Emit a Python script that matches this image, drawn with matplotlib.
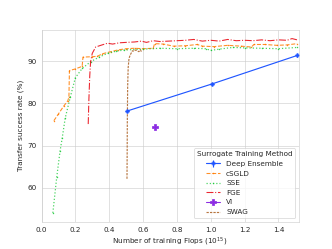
import matplotlib
matplotlib.use("Agg")
import matplotlib.pyplot as plt
import seaborn as sns

# values
de_x = [0.506, 1.005, 1.511]
de_y = [78.2, 84.6, 91.4]
de_err = [0.3, 0.3, 0.3]

csgld_x = [0.073, 0.10, 0.13, 0.155, 0.162, 0.165, 0.20, 0.24, 0.245, 0.30, 0.33, 0.36,
           0.41, 0.45, 0.50, 0.55, 0.60, 0.66, 0.668, 0.72, 0.78, 0.85, 0.92, 0.95,
           1.02, 1.10, 1.18, 1.24, 1.255, 1.32, 1.39, 1.45, 1.51]
csgld_y = [75.9, 77.5, 79.3, 80.6, 81.5, 87.8, 88.2, 88.8, 91.0, 91.1, 91.2, 91.8,
           92.3, 92.7, 93.0, 93.1, 93.0, 93.1, 94.2, 94.1, 93.6, 93.7, 94.0, 93.6,
           93.5, 93.8, 93.6, 93.4, 94.0, 94.0, 93.8, 93.9, 94.2]

sse_x = [0.067, 0.09, 0.11, 0.122, 0.14, 0.17, 0.20, 0.24, 0.29, 0.34, 0.39, 0.44,
         0.49, 0.6, 0.7, 0.8, 0.9, 0.97, 1.0, 1.05, 1.13, 1.2, 1.3, 1.4, 1.51]
sse_y = [54.0, 62.5, 68.8, 71.7, 76.5, 81.5, 86.1, 88.3, 89.9, 91.0, 91.9, 92.4,
         92.7, 92.9, 93.1, 93.0, 93.1, 93.0, 92.6, 92.9, 93.3, 93.2, 93.1, 93.0, 93.3]

fge_x = [0.276, 0.28, 0.285, 0.29, 0.30, 0.32, 0.35, 0.39, 0.42, 0.46, 0.50, 0.55,
         0.59, 0.62, 0.66, 0.70, 0.75, 0.80, 0.85, 0.90, 0.95, 1.00, 1.05, 1.10,
         1.15, 1.20, 1.25, 1.30, 1.35, 1.40, 1.45, 1.48, 1.51]
fge_y = [75.1, 81.0, 86.5, 89.9, 91.9, 93.4, 93.8, 94.3, 94.1, 94.4, 94.5, 94.6,
         94.8, 94.5, 94.9, 94.7, 94.8, 94.9, 95.0, 95.2, 94.8, 95.0, 94.8, 95.2,
         94.9, 95.0, 94.9, 95.1, 94.9, 95.1, 95.0, 95.4, 95.1]

vi_x = [0.67]
vi_y = [74.4]

swag_x = [0.505, 0.506, 0.507, 0.509, 0.512, 0.517, 0.524, 0.537, 0.547, 0.556,
          0.565, 0.575, 0.585, 0.59]
swag_y = [62.1, 68.0, 76.0, 84.0, 88.5, 90.7, 91.5, 92.5, 92.4, 92.7, 92.5, 92.3,
          92.7, 92.3]

sns.set_style("whitegrid")

fig, ax = plt.subplots(figsize=(6.4, 4.8), dpi=51.875)

h_de = ax.errorbar(de_x, de_y, yerr=de_err, color="#1f55ff", marker="P", markersize=5,
                   linewidth=1.6, label="Deep Ensemble")
h_cs, = ax.plot(csgld_x, csgld_y, color="#ff7c00", linestyle="--", marker=".",
                markersize=2, linewidth=1.5, alpha=0.85, label="cSGLD")
h_sse, = ax.plot(sse_x, sse_y, color="#1ac938", linestyle=":", marker=".",
                 markersize=2, linewidth=1.7, alpha=0.8, label="SSE")
h_fge, = ax.plot(fge_x, fge_y, color="#e8000b", linestyle="-.", linewidth=1.5,
                 alpha=0.85, label="FGE")
h_vi, = ax.plot(vi_x, vi_y, color="#8b2be2", marker="P", markersize=8, linewidth=1.5,
                label="VI")
h_swag, = ax.plot(swag_x, swag_y, color="#9f4800", linestyle=(0, (2, 1)),
                  linewidth=1.6, alpha=0.75, label="SWAG")

ax.set_xlim(0, 1.52)
ax.set_xlabel("Number of training Flops ($10^{15}$)")
ax.set_ylabel("Transfer success rate (%)")
ax.legend(handles=[h_de, h_cs, h_sse, h_fge, h_vi, h_swag],
          title="Surrogate Training Method", loc="lower right")

fig.savefig("out.png")
